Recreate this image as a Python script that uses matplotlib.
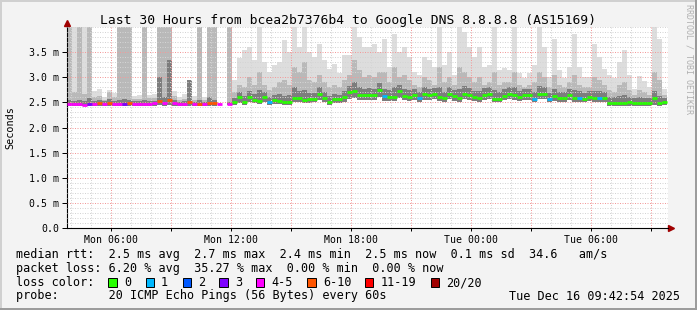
import numpy as np
import matplotlib
matplotlib.use('Agg')
import matplotlib.pyplot as plt
from matplotlib.patches import Rectangle
from matplotlib.ticker import MultipleLocator, FixedLocator, FuncFormatter

nan = float('nan')

# rrd buckets: 15 min each, first one starts Mon 03:48 (hours since Mon 00:00)
t_start = 3.8
step = 0.25

median = [
    2.46, 2.46, 2.46, 2.45, 2.46, 2.46, 2.49, 2.47, 2.49, 2.47,
    2.46, 2.47, 2.48, 2.47, 2.46, 2.47, 2.47, 2.48, 2.52, 2.48,
    2.55, 2.48, 2.47, 2.47, 2.50, 2.46, 2.47, 2.46, 2.48, 2.48,
    2.47, nan, 2.47, 2.51, 2.60, 2.51, 2.60, 2.55, 2.53, 2.60,
    2.51, 2.54, 2.53, 2.51, 2.51, 2.58, 2.58, 2.55, 2.56, 2.57,
    2.66, 2.58, 2.51, 2.56, 2.56, 2.60, 2.70, 2.72, 2.64, 2.64,
    2.64, 2.64, 2.75, 2.62, 2.61, 2.61, 2.72, 2.63, 2.61, 2.65,
    2.58, 2.66, 2.64, 2.66, 2.60, 2.58, 2.66, 2.62, 2.58, 2.66,
    2.65, 2.60, 2.58, 2.65, 2.66, 2.57, 2.57, 2.63, 2.66, 2.65,
    2.60, 2.65, 2.65, 2.57, 2.66, 2.67, 2.56, 2.62, 2.58, 2.58,
    2.64, 2.58, 2.59, 2.57, 2.60, 2.59, 2.59, 2.59, 2.48, 2.49,
    2.49, 2.49, 2.50, 2.48, 2.48, 2.48, 2.49, 2.58, 2.49, 2.50,
]

# index into loss_labels / loss_colors
loss_idx = [
    4, 4, 4, 4, 3, 4, 5, 4, 5, 4,
    4, 3, 5, 4, 4, 4, 4, 4, 5, 4,
    5, 4, 4, 4, 5, 4, 5, 4, 5, 5,
    4, 4, 4, 0, 0, 0, 0, 0, 0, 0,
    1, 0, 0, 0, 0, 0, 0, 0, 0, 0,
    0, 0, 0, 0, 0, 0, 0, 0, 0, 0,
    0, 0, 0, 1, 0, 0, 0, 0, 0, 0,
    1, 0, 0, 0, 0, 0, 0, 0, 0, 0,
    0, 0, 0, 0, 0, 0, 0, 0, 0, 0,
    0, 0, 0, 1, 0, 0, 1, 0, 0, 0,
    0, 0, 1, 0, 0, 0, 1, 0, 0, 0,
    0, 0, 0, 0, 0, 0, 0, 0, 0, 0,
]

smoke_max = [
    4.0, 4.0, 4.0, 4.0, 4.0, 2.72, 2.77, 2.60, 2.74, 2.68,
    4.0, 4.0, 4.0, 2.62, 2.64, 4.0, 2.65, 2.66, 4.0, 4.0,
    4.0, 2.72, 2.60, 2.66, 2.95, 2.62, 4.0, 2.60, 4.0, 4.0,
    nan, nan, 4.0, 2.95, 3.38, 3.55, 3.60, 3.35, 4.0, 3.30,
    3.10, 3.25, 3.30, 3.75, 3.50, 4.0, 3.60, 4.0, 3.50, 3.40,
    3.67, 3.35, 3.17, 3.26, 3.08, 3.45, 3.45, 4.0, 3.80, 3.60,
    3.60, 3.66, 3.50, 3.77, 3.20, 3.87, 3.50, 3.60, 3.40, 3.10,
    3.05, 3.40, 3.35, 3.20, 4.0, 3.25, 3.50, 3.05, 4.0, 3.90,
    3.60, 3.40, 3.60, 3.20, 3.25, 4.0, 3.15, 3.18, 3.15, 4.0,
    3.08, 2.98, 3.08, 3.25, 4.0, 3.60, 3.00, 3.77, 3.15, 2.98,
    3.20, 3.87, 3.20, 3.00, 3.00, 3.67, 3.40, 3.17, 3.05, 2.98,
    3.30, 3.55, 3.05, 2.77, 3.02, 2.92, 2.80, 4.0, 3.77, 2.77,
]

smoke_mid = [
    4.0, 2.70, 4.0, 2.66, 4.0, 2.60, 2.62, 2.55, 2.70, 2.60,
    4.0, 4.0, 4.0, 2.56, 2.56, 4.0, 2.58, 2.58, 4.0, 4.0,
    4.0, 2.62, 2.54, 2.56, 2.95, 2.55, 4.0, 2.55, 4.0, 4.0,
    nan, nan, 4.0, 2.70, 2.85, 2.80, 3.00, 2.85, 3.10, 2.85,
    2.75, 2.80, 2.90, 2.95, 2.85, 3.20, 3.10, 3.30, 2.95, 2.90,
    3.05, 2.90, 2.80, 2.85, 2.80, 2.95, 3.05, 3.35, 3.15, 3.00,
    3.05, 3.00, 3.10, 3.10, 2.90, 3.20, 3.00, 3.05, 2.95, 2.85,
    2.80, 3.00, 2.95, 2.85, 3.20, 2.90, 3.00, 2.85, 3.20, 3.10,
    3.00, 2.90, 3.00, 2.85, 2.90, 3.10, 2.85, 2.90, 2.90, 3.10,
    2.85, 2.80, 2.85, 2.90, 3.10, 3.00, 2.80, 3.05, 2.85, 2.80,
    2.90, 3.05, 2.85, 2.80, 2.80, 3.00, 2.95, 2.85, 2.75, 2.70,
    2.85, 2.90, 2.75, 2.65, 2.75, 2.70, 2.65, 3.10, 2.95, 2.65,
]

smoke_dark = [
    2.55, 2.52, 2.55, 2.52, 2.58, 2.52, 2.54, 2.52, 2.56, 2.52,
    2.55, 2.56, 2.55, 2.52, 2.52, 2.54, 2.52, 2.53, 3.00, 2.60,
    3.35, 2.54, 2.50, 2.52, 2.95, 2.50, 2.55, 2.50, 2.60, 2.55,
    nan, nan, 2.50, 2.58, 2.70, 2.62, 2.72, 2.66, 2.75, 2.70,
    2.60, 2.64, 2.66, 2.62, 2.64, 2.80, 2.72, 2.75, 2.68, 2.68,
    2.80, 2.70, 2.62, 2.66, 2.65, 2.72, 2.82, 2.90, 2.80, 2.76,
    2.78, 2.76, 2.88, 2.76, 2.74, 2.80, 2.84, 2.76, 2.74, 2.76,
    2.70, 2.80, 2.76, 2.78, 2.80, 2.70, 2.80, 2.74, 2.76, 2.82,
    2.78, 2.72, 2.72, 2.78, 2.80, 2.74, 2.70, 2.76, 2.80, 2.80,
    2.72, 2.76, 2.76, 2.70, 2.82, 2.80, 2.68, 2.76, 2.70, 2.70,
    2.76, 2.74, 2.72, 2.68, 2.72, 2.72, 2.72, 2.70, 2.60, 2.60,
    2.62, 2.64, 2.60, 2.58, 2.60, 2.58, 2.58, 2.72, 2.62, 2.58,
]

smoke_min = [
    2.42, 2.42, 2.42, 2.42, 2.42, 2.42, 2.43, 2.43, 2.43, 2.43,
    2.42, 2.43, 2.43, 2.43, 2.42, 2.43, 2.43, 2.43, 2.44, 2.43,
    2.44, 2.43, 2.43, 2.43, 2.43, 2.42, 2.42, 2.42, 2.43, 2.43,
    nan, nan, 2.45, 2.45, 2.48, 2.45, 2.50, 2.48, 2.46, 2.50,
    2.45, 2.47, 2.46, 2.45, 2.45, 2.50, 2.50, 2.48, 2.48, 2.50,
    2.55, 2.50, 2.45, 2.48, 2.48, 2.50, 2.56, 2.58, 2.55, 2.55,
    2.54, 2.55, 2.60, 2.52, 2.52, 2.52, 2.58, 2.54, 2.52, 2.55,
    2.50, 2.55, 2.54, 2.56, 2.52, 2.50, 2.56, 2.53, 2.50, 2.56,
    2.55, 2.52, 2.50, 2.55, 2.56, 2.50, 2.50, 2.54, 2.56, 2.55,
    2.52, 2.55, 2.55, 2.50, 2.56, 2.57, 2.50, 2.53, 2.50, 2.50,
    2.55, 2.50, 2.50, 2.50, 2.52, 2.50, 2.50, 2.50, 2.42, 2.43,
    2.42, 2.43, 2.43, 2.42, 2.42, 2.42, 2.43, 2.45, 2.43, 2.44,
]

loss_labels = ['0', '1', '2', '3', '4-5', '6-10', '11-19', '20/20']
loss_colors = ['#26ff00', '#00b8ff', '#0059ff', '#7e00ff', '#ff00ff', '#ff5500', '#ff0000', '#a10000']

x_tick_hours = [6, 12, 18, 24, 30]
x_tick_labels = ['Mon 06:00', 'Mon 12:00', 'Mon 18:00', 'Tue 00:00', 'Tue 06:00']
y_ticks = [0.0, 0.5, 1.0, 1.5, 2.0, 2.5, 3.0, 3.5]
y_tick_labels = ['0.0', '0.5 m', '1.0 m', '1.5 m', '2.0 m', '2.5 m', '3.0 m', '3.5 m']

title = 'Last 30 Hours from bcea2b7376b4 to Google DNS 8.8.8.8 (AS15169)'
rtt_line = 'median rtt:  2.5 ms avg  2.7 ms max  2.4 ms min  2.5 ms now  0.1 ms sd  34.6   am/s'
loss_line = 'packet loss: 6.20 % avg  35.27 % max  0.00 % min  0.00 % now'
probe_line = 'probe:       20 ICMP Echo Pings (56 Bytes) every 60s'
stamp = 'Tue Dec 16 09:42:54 2025'

W, H = 697, 310
MONO = 'DejaVu Sans Mono'
plt.rcParams['font.family'] = MONO


def fx(px):
    return px / W


def fy(py):
    return 1 - py / H


fig = plt.figure(figsize=(W / 100, H / 100), dpi=100, facecolor='#f3f3f3')
ax = fig.add_axes([fx(67), fy(228), (668 - 67) / W, (228 - 27) / H])
ax.set_facecolor('white')

med = np.array(median)
lo = np.array(smoke_min)
times = t_start + step * np.arange(len(med))

# smoke, outer to inner
for upper, col in [(smoke_max, '#dddddd'), (smoke_mid, '#b9b9b9'), (smoke_dark, '#7d7d7d')]:
    up = np.array(upper)
    ok = ~np.isnan(up)
    ax.bar(times[ok], up[ok] - lo[ok], bottom=lo[ok], width=step, align='edge',
           color=col, linewidth=0, zorder=1)

# median coloured by loss
ok = ~np.isnan(med)
cols = [loss_colors[k] for k in np.array(loss_idx)[ok]]
ax.hlines(med[ok], times[ok], times[ok] + step, colors=cols, lw=2.0, zorder=3)

ax.set_xlim(t_start, 33.85)
ax.set_ylim(0, 4.0)

ax.xaxis.set_major_locator(MultipleLocator(3))
ax.xaxis.set_minor_locator(MultipleLocator(1))
lab = dict(zip(x_tick_hours, x_tick_labels))
ax.xaxis.set_major_formatter(FuncFormatter(lambda v, p: lab.get(int(round(v)), '')))
ax.yaxis.set_major_locator(FixedLocator(y_ticks))
ax.yaxis.set_minor_locator(MultipleLocator(0.1))
ax.set_yticklabels(y_tick_labels)

ax.set_axisbelow(False)
ax.grid(which='minor', color='#d4d4d4', lw=0.72, linestyle=(0, (1, 1.5)))
ax.grid(which='major', color='#f29a9a', lw=0.72, linestyle=(0, (1, 1.5)))

ax.tick_params(axis='y', which='major', length=3.6, width=0.72, pad=2, labelsize=7.1)
ax.tick_params(axis='y', which='minor', length=0)
ax.tick_params(axis='x', which='major', length=2, width=0.72, pad=3, labelsize=7.1)
ax.tick_params(axis='x', which='minor', length=0)

for s in ['top', 'right']:
    ax.spines[s].set_visible(False)
for s in ['left', 'bottom']:
    ax.spines[s].set_linewidth(0.8)
    ax.spines[s].set_color('black')

# axis arrows
ax.plot([0, 0], [1, 1.02], color='black', lw=0.8, transform=ax.transAxes, clip_on=False)
ax.plot([1, 1.004], [0, 0], color='black', lw=0.8, transform=ax.transAxes, clip_on=False)
ax.plot([0], [1.02], marker='^', ms=4, color='#a00000', transform=ax.transAxes, clip_on=False)
ax.plot([1.005], [0], marker='>', ms=4, color='#a00000', transform=ax.transAxes, clip_on=False)

fig.text(fx(10), fy(127.5), 'Seconds', rotation=90, ha='center', va='center', fontsize=7.3)
fig.text(fx(348.5), fy(24), title, ha='center', va='baseline', fontsize=9.4)
fig.text(fx(689), fy(59), 'RRDTOOL / TOBI OETIKER', rotation=270, ha='center', va='center',
         fontsize=6, color='#b0b0b0')

fig.text(fx(16), fy(258), rtt_line, va='baseline', fontsize=8.5)
fig.text(fx(16), fy(272), loss_line, va='baseline', fontsize=8.5)
fig.text(fx(16), fy(286), 'loss color:', va='baseline', fontsize=8.5)
fig.text(fx(16), fy(299.5), probe_line, va='baseline', fontsize=8.5)
fig.text(fx(680), fy(299.5), stamp, ha='right', va='baseline', fontsize=8.5)

box_x = [108.3, 145.7, 182.7, 219.3, 256, 307.3, 365, 430.7]
text_x = [124, 161, 198, 235, 271, 323, 381, 446]
for bx, tx, lbl, col in zip(box_x, text_x, loss_labels, loss_colors):
    fig.patches.append(Rectangle((fx(bx), fy(286.7)), 8.4 / W, 8.4 / H, transform=fig.transFigure,
                                 facecolor=col, edgecolor='black', lw=0.7))
    fig.text(fx(tx), fy(286), lbl, va='baseline', fontsize=8.5)

# image frame
fig.patches.append(Rectangle((0, 1 - 2 / H), 1, 2 / H, transform=fig.transFigure, color='#d0d0d0', lw=0))
fig.patches.append(Rectangle((0, 0), 2 / W, 1, transform=fig.transFigure, color='#d0d0d0', lw=0))
fig.patches.append(Rectangle((0, 0), 1, 2 / H, transform=fig.transFigure, color='#9c9c9c', lw=0))
fig.patches.append(Rectangle((1 - 2 / W, 0), 2 / W, 1, transform=fig.transFigure, color='#9c9c9c', lw=0))

fig.savefig('out.png', dpi=100, facecolor=fig.get_facecolor())
